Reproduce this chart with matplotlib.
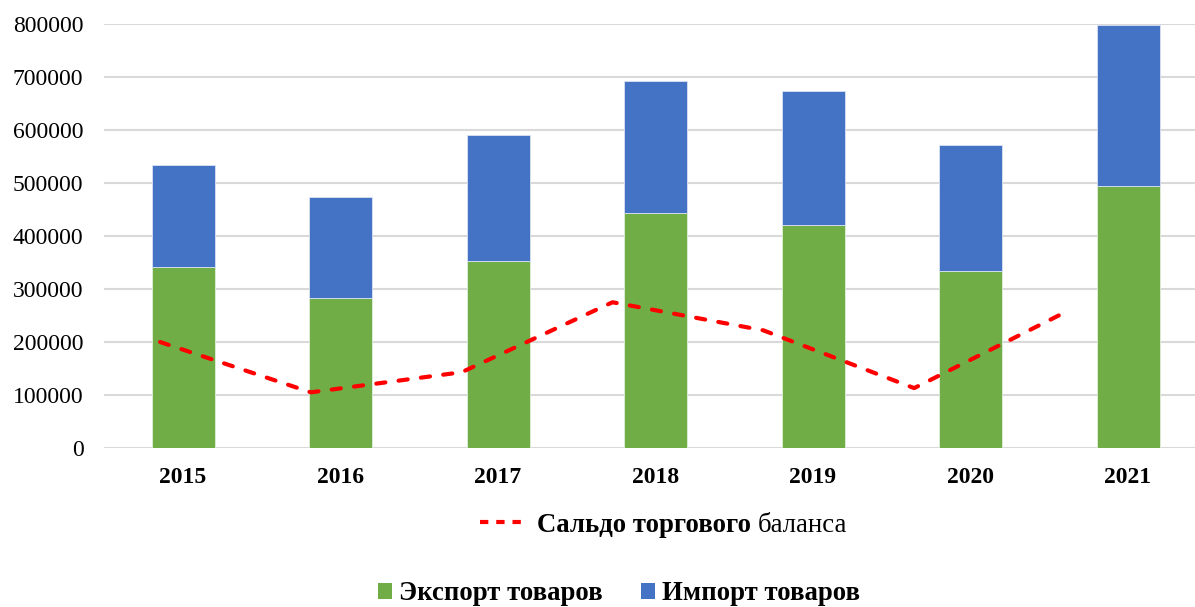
import numpy as np
import matplotlib
matplotlib.use('Agg')
import matplotlib.pyplot as plt
from matplotlib.patches import Patch
from matplotlib.lines import Line2D

years = ['2015', '2016', '2017', '2018', '2019', '2020', '2021']
export = [341500, 283000, 352800, 443400, 420800, 334000, 494300]
imports = [192500, 190600, 237800, 249100, 252800, 237700, 303800]
saldo = [200000, 105000, 143000, 275000, 222000, 113000, 256000]
yticks = [0, 100000, 200000, 300000, 400000, 500000, 600000, 700000, 800000]

green = '#70AD47'
blue = '#4472C4'
red = '#FF0000'

plt.rcParams['font.family'] = ['Liberation Serif', 'DejaVu Serif']

fig = plt.figure(figsize=(11.95, 6.07), dpi=100)
ax = fig.add_axes([104.25 / 1195, 159 / 607, 1102.5 / 1195, 1 - 24 / 607 - 159 / 607])

x = np.arange(len(years))
ax.bar(x, export, width=0.4, color=green, edgecolor='#E2EFDA', linewidth=0.6, zorder=2)
ax.bar(x, imports, width=0.4, bottom=export, color=blue, edgecolor='#DAE3F3', linewidth=0.6, zorder=2)

ax.set_xlim(-0.5, len(years) - 0.5)
ax.set_ylim(0, 800000)
ax.set_yticks(yticks)
ax.set_yticklabels([str(v) for v in yticks])
ax.set_xticks(x)
ax.set_xticklabels(years, fontweight='bold')
ax.tick_params(axis='y', length=0, pad=15, labelsize=17)
ax.tick_params(axis='x', length=0, pad=14, labelsize=17)
ax.grid(axis='y', color='#D9D9D9', linewidth=1.5, zorder=0)
ax.set_axisbelow(True)
for s in ax.spines.values():
    s.set_visible(False)

# balance line sits on its own (secondary) category axis
ax2 = ax.twiny()
ax2.set_xlim(-0.37, 6.94)
ax2.set_ylim(0, 800000)
ax2.plot(np.arange(len(saldo)), saldo, color=red, linewidth=3,
         dashes=(2.2, 3.2), dash_capstyle='round', zorder=3)
ax2.axis('off')

fs_leg = 19.3
h1 = Line2D([], [], color=red, linewidth=3, dashes=(2.0, 1.9))
leg1 = fig.legend([h1], ['Сальдо торгового'], loc='center left',
                  bbox_to_anchor=(480 / 1195, 1 - 525 / 607), frameon=False,
                  prop={'size': fs_leg, 'weight': 'bold'}, handlelength=1.75,
                  handletextpad=0.37, borderpad=0, borderaxespad=0)
fig.canvas.draw()
txt = leg1.get_texts()[0]
plt.annotate('баланса', xy=(1, 0), xycoords=txt, xytext=(5, 0),
             textcoords='offset points', va='bottom', ha='left', fontsize=fs_leg)

hp = [Patch(facecolor=green), Patch(facecolor=blue)]
fig.legend(hp, ['Экспорт товаров', 'Импорт товаров'], loc='center left',
           bbox_to_anchor=(378 / 1195, 1 - 594 / 607), frameon=False, ncol=2,
           prop={'size': fs_leg, 'weight': 'bold'}, handlelength=0.52, handleheight=0.52,
           handletextpad=0.26, columnspacing=1.42, borderpad=0, borderaxespad=0)

fig.savefig('out.png', dpi=100)
